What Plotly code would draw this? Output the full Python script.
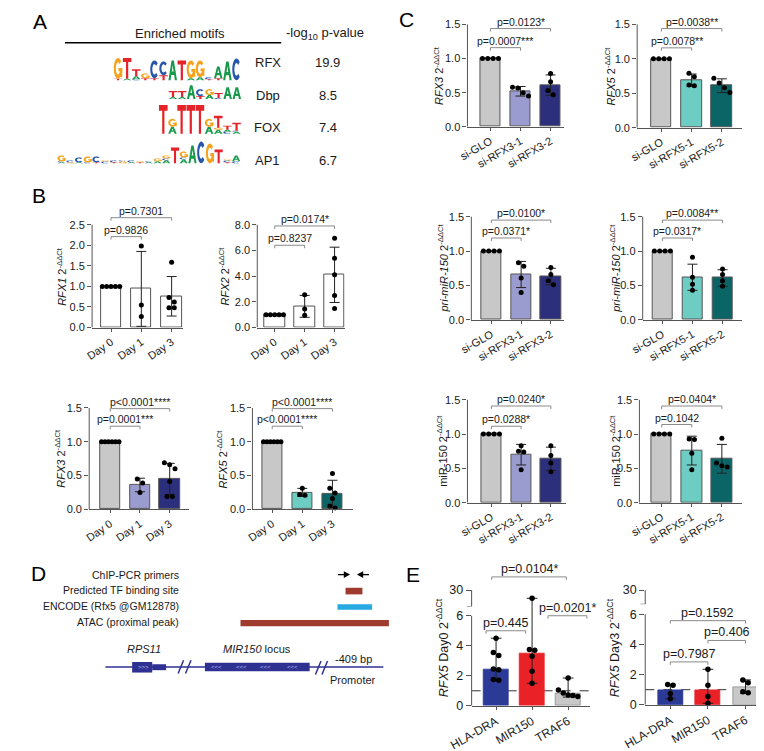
import math
import plotly.graph_objects as go

W, H = 764, 751
FONT = "Liberation Sans, Arial, sans-serif"
AXC = "#555555"
TXT = "#1a1a1a"

# ======================= DATA =======================
# ---- Panel A: enriched motifs ----
motif_names = ["RFX", "Dbp", "FOX", "AP1"]
motif_logp = ["19.9", "8.5", "7.4", "6.7"]
# each position: stack of (letter, height) from bottom to top
logo_RFX = [
    [("T", 1.5), ("G", 21)], [("A", 1.5), ("T", 21)], [("C", 1), ("A", 3), ("T", 7)],
    [("T", 2), ("G", 5)], [("T", 2), ("C", 18)], [("T", 5), ("C", 14)], [("A", 20)],
    [("T", 20)], [("A", 2), ("G", 18)], [("A", 3), ("G", 17)], [("T", 1), ("C", 2)],
    [("T", 2), ("A", 12)], [("A", 19)], [("C", 22)],
]
logo_Dbp = [
    [("A", 2), ("T", 6)], [("A", 2), ("T", 6)], [("A", 14)], [("T", 3), ("C", 7)],
    [("A", 4), ("G", 6)], [("C", 1), ("T", 5)], [("A", 12)], [("A", 12)],
]
logo_FOX = [
    [("T", 29)], [("A", 7), ("G", 8)], [("T", 29)], [("T", 29)], [("T", 29)],
    [("A", 7), ("G", 8)], [("A", 4), ("G", 2), ("T", 12)], [("C", 2), ("A", 2), ("T", 4)],
    [("A", 2), ("C", 1), ("T", 8)],
]
logo_AP1 = [
    [("A", 1), ("C", 1), ("G", 6)], [("G", 1), ("C", 2)], [("A", 1), ("C", 5)],
    [("C", 1), ("G", 6)], [("T", 1), ("C", 6)], [("C", 2), ("G", 1)], [("T", 1), ("C", 2)],
    [("G", 2), ("C", 1)], [("A", 1), ("C", 2)], [("T", 1), ("G", 1)], [("A", 1), ("C", 1)],
    [("A", 2), ("G", 3)], [("A", 3), ("C", 2), ("G", 3)], [("T", 16)],
    [("A", 4), ("C", 2), ("G", 6)], [("A", 18)], [("C", 22)], [("G", 20)], [("T", 14)],
    [("T", 1), ("C", 2), ("G", 1)], [("C", 2), ("A", 6)],
]

# ---- Panel B ----
day_cats = ["Day 0", "Day 1", "Day 3"]
rfx1_mean = [1.00, 0.94, 0.76]
rfx1_sd = [0.00, 0.91, 0.48]
rfx1_pts = [[1.0, 1.0, 1.0, 1.0, 1.0], [1.98, 0.55, 0.27], [1.59, 0.73, 0.62, 0.48, 0.48]]
rfx1_p = ["p=0.9826", "p=0.7301"]

rfx2_mean = [1.00, 1.65, 4.10]
rfx2_sd = [0.00, 0.85, 2.15]
rfx2_pts = [[1.0, 1.0, 1.0, 1.0, 1.0], [2.55, 1.45, 0.95], [6.95, 5.38, 4.10, 2.50, 1.49]]
rfx2_p = ["p=0.8237", "p=0.0174*"]

rfx3_mean = [1.00, 0.36, 0.45]
rfx3_sd = [0.00, 0.10, 0.23]
rfx3_pts = [[1.0, 1.0, 1.0, 1.0, 1.0, 1.0], [0.45, 0.39, 0.25], [0.69, 0.66, 0.60, 0.41, 0.19, 0.19]]
rfx3_p = ["p=0.0001***", "p<0.0001****"]

rfx5_mean = [1.00, 0.25, 0.23]
rfx5_sd = [0.00, 0.06, 0.20]
rfx5_pts = [[1.0, 1.0, 1.0, 1.0, 1.0, 1.0], [0.31, 0.21, 0.22], [0.53, 0.31, 0.24, 0.16, 0.05, 0.02]]
rfx5_p = ["p<0.0001****", "p<0.0001****"]

# ---- Panel C ----
si3_cats = ["si-GLO", "si-RFX3-1", "si-RFX3-2"]
si5_cats = ["si-GLO", "si-RFX5-1", "si-RFX5-2"]

c_rfx3_mean = [1.00, 0.52, 0.61]
c_rfx3_sd = [0.00, 0.07, 0.15]
c_rfx3_pts = [[1.0, 1.0, 1.0, 1.0], [0.58, 0.57, 0.50, 0.45], [0.78, 0.66, 0.53, 0.47]]
c_rfx3_p = ["p=0.0007***", "p=0.0123*"]

c_rfx5_mean = [1.00, 0.69, 0.61]
c_rfx5_sd = [0.00, 0.09, 0.10]
c_rfx5_pts = [[1.0, 1.0, 1.0, 1.0], [0.79, 0.74, 0.62, 0.61], [0.72, 0.65, 0.58, 0.51]]
c_rfx5_p = ["p=0.0078**", "p=0.0038**"]

pri3_mean = [1.00, 0.66, 0.63]
pri3_sd = [0.00, 0.19, 0.12]
pri3_pts = [[1.0, 1.0, 1.0, 1.0], [0.83, 0.78, 0.61, 0.40], [0.76, 0.66, 0.57, 0.51]]
pri3_p = ["p=0.0371*", "p=0.0100*"]

pri5_mean = [1.00, 0.62, 0.61]
pri5_sd = [0.00, 0.19, 0.12]
pri5_pts = [[1.0, 1.0, 1.0, 1.0], [0.91, 0.62, 0.52, 0.43], [0.74, 0.66, 0.57, 0.49]]
pri5_p = ["p=0.0317*", "p=0.0084**"]

mir3_mean = [1.00, 0.70, 0.64]
mir3_sd = [0.00, 0.15, 0.17]
mir3_pts = [[1.0, 1.0, 1.0, 1.0], [0.83, 0.75, 0.74, 0.48], [0.83, 0.69, 0.58, 0.45]]
mir3_p = ["p=0.0288*", "p=0.0240*"]

mir5_mean = [1.00, 0.76, 0.64]
mir5_sd = [0.00, 0.21, 0.21]
mir5_pts = [[1.0, 1.0, 1.0, 1.0], [0.93, 0.92, 0.72, 0.48], [0.94, 0.58, 0.54, 0.52]]
mir5_p = ["p=0.1042", "p=0.0404*"]

# ---- Panel E (median with range) ----
chip_cats = ["HLA-DRA", "MIR150", "TRAF6"]
d0_med = [2.40, 3.50, 0.80]
d0_min = [1.70, 1.50, 0.58]
d0_max = [4.50, 20.0, 1.85]
d0_pts = [[4.50, 3.55, 3.35, 2.45, 2.40, 1.75, 1.70],
          [20.0, 3.75, 3.70, 3.30, 2.30, 1.50],
          [1.85, 1.05, 0.85, 0.72, 0.68, 0.62]]
d0_p = ["p=0.445", "p=0.0201*", "p=0.0104*"]

d3_med = [0.98, 0.95, 1.15]
d3_min = [0.40, 0.10, 0.75]
d3_max = [1.35, 2.35, 1.65]
d3_pts = [[1.35, 1.30, 0.75, 0.40], [2.35, 1.30, 0.55, 0.10], [1.65, 1.46, 0.87, 0.80]]
d3_p = ["p=0.7987", "p=0.406", "p=0.1592"]

# ======================= HELPERS =======================
traces, shapes, annotations, axes = [], [], [], {}
TICK_FS, LAB_FS, TITLE_FS, P_FS = 11, 11, 11, 10.5


def P(x):
    return x / W


def Q(y):
    return 1 - y / H


def ptxt(x, y, text, size=11, xanchor="center", yanchor="middle", color=TXT, angle=0):
    annotations.append(dict(xref="paper", yref="paper", x=P(x), y=Q(y), text=text,
                            showarrow=False, xanchor=xanchor, yanchor=yanchor, textangle=angle,
                            font=dict(family=FONT, size=size, color=color)))


def prect(x0, y0, x1, y1, color):
    shapes.append(dict(type="rect", xref="paper", yref="paper", x0=P(x0), x1=P(x1),
                       y0=Q(y1), y1=Q(y0), fillcolor=color, line=dict(width=0)))


def pline(x0, y0, x1, y1, color, width=1.0):
    shapes.append(dict(type="line", xref="paper", yref="paper", x0=P(x0), x1=P(x1),
                       y0=Q(y0), y1=Q(y1), line=dict(color=color, width=width)))


def ppoly(pts, color):
    path = "M " + " L ".join(f"{P(x):.5f},{Q(y):.5f}" for x, y in pts) + " Z"
    shapes.append(dict(type="path", xref="paper", yref="paper", path=path,
                       fillcolor=color, line=dict(width=0)))


# ---- sequence logo glyphs (unit box, y up) ----
LOGO_COL = {"A": "#17994a", "C": "#2757a8", "G": "#f6a31c", "T": "#e4232a"}


def arc_poly(a0, a1, ro=(0.5, 0.5), ri=(0.25, 0.29), n=18):
    outer = [(0.5 + ro[0] * math.cos(math.radians(a0 + (a1 - a0) * i / n)),
              0.5 + ro[1] * math.sin(math.radians(a0 + (a1 - a0) * i / n))) for i in range(n + 1)]
    inner = [(0.5 + ri[0] * math.cos(math.radians(a1 - (a1 - a0) * i / n)),
              0.5 + ri[1] * math.sin(math.radians(a1 - (a1 - a0) * i / n))) for i in range(n + 1)]
    return outer + inner


def glyph(letter):
    if letter == "T":
        return [[[(0, 1), (1, 1), (1, 0.8), (0.63, 0.8), (0.63, 0), (0.37, 0), (0.37, 0.8), (0, 0.8)]]]
    if letter == "A":
        return [[[(0, 0), (0.36, 1), (0.64, 1), (1, 0), (0.75, 0), (0.67, 0.26), (0.33, 0.26), (0.25, 0)],
                 [(0.5, 0.76), (0.6, 0.44), (0.4, 0.44)]]]
    if letter == "C":
        return [[arc_poly(42, 318)]]
    # G
    return [[arc_poly(42, 340)],
            [[(0.55, 0.36), (1.0, 0.36), (1.0, 0.52), (0.55, 0.52)]],
            [[(0.78, 0.08), (1.0, 0.08), (1.0, 0.52), (0.78, 0.52)]]]


def draw_letter(letter, x0, x1, yb, yt):
    for sub in glyph(letter):
        path = ""
        for poly in sub:
            pts = [(x0 + u * (x1 - x0), yb - v * (yb - yt)) for u, v in poly]
            path += "M " + " L ".join(f"{P(x):.5f},{Q(y):.5f}" for x, y in pts) + " Z "
        shapes.append(dict(type="path", xref="paper", yref="paper", path=path.strip(),
                           fillcolor=LOGO_COL[letter], fillrule="evenodd", line=dict(width=0)))


def draw_logo(logo, x_start, width, baseline):
    for i, stack in enumerate(logo):
        x0 = x_start + i * width + 0.3
        x1 = x_start + (i + 1) * width - 0.3
        yb = baseline
        for letter, h in stack:
            draw_letter(letter, x0, x1, yb, yb - h)
            yb -= h


def swarm_offsets(vals, ppu, dot_px=5.0, step_px=5.5, max_px=18.0):
    order = sorted(range(len(vals)), key=lambda i: -vals[i])
    clusters = []
    for i in order:
        if clusters and abs(vals[clusters[-1][-1]] - vals[i]) * ppu < dot_px:
            clusters[-1].append(i)
        else:
            clusters.append([i])
    offs = [0.0] * len(vals)
    for cl in clusters:
        n = len(cl)
        step = min(step_px, max_px / (n - 1)) if n > 1 else 0
        for j, i in enumerate(cl):
            offs[i] = (j - (n - 1) / 2) * step
    return offs


def names(k):
    s = "" if k == 1 else str(k)
    return "x" + s, "y" + s, "xaxis" + s, "yaxis" + s


def bracket(xa, ya, x0, x1, y, d, text, size):
    shapes.append(dict(type="path", xref=xa, yref=ya,
                       path=f"M {x0},{y - d} L {x0},{y} L {x1},{y} L {x1},{y - d}",
                       line=dict(color="#8a8a8a", width=1)))
    annotations.append(dict(xref=xa, yref=ya, x=(x0 + x1) / 2, y=y, yshift=-1, text=text,
                            showarrow=False, xanchor="center", yanchor="bottom",
                            font=dict(family=FONT, size=size, color=TXT)))


def bar_panel(k, cats, means, sds, pts, ptexts, colors, g):
    xa, ya, xk, yk = names(k)
    s = (g["c2"] - g["c0"]) / 2.0
    ymax = max([g["ticks"][-1]] + [b[2] for b in g["brk"]])
    yr1 = ymax + 0.05 * g["ticks"][-1]
    top_px = g["y0"] - yr1 * g["ppu"]
    axes[xk] = dict(domain=[P(g["xl"]), P(g["xr"])],
                    range=[(g["xl"] - g["c0"]) / s, (g["xr"] - g["c0"]) / s], anchor=ya,
                    showline=True, linecolor=AXC, linewidth=1, ticks="outside", ticklen=3,
                    tickcolor=AXC, tickvals=[0, 1, 2], ticktext=cats, tickangle=g["angle"],
                    tickfont=dict(family=FONT, size=LAB_FS, color=TXT), showgrid=False,
                    zeroline=False, fixedrange=True)
    axes[yk] = dict(domain=[Q(g["y0"]), Q(top_px)], range=[0, yr1], anchor=xa, showline=False,
                    ticks="outside", ticklen=4, tickcolor=AXC, tickvals=g["ticks"],
                    ticktext=g["ticktext"], tickfont=dict(family=FONT, size=TICK_FS, color=TXT),
                    showgrid=False, zeroline=False, fixedrange=True)
    traces.append(go.Bar(x=[0, 1, 2], y=means, width=g["bw"] / s,
                         marker=dict(color=colors, line=dict(color=AXC, width=1)),
                         error_y=dict(type="data", array=sds, visible=True, color="#222",
                                      thickness=1, width=5),
                         xaxis=xa, yaxis=ya, hoverinfo="skip"))
    xs, ys = [], []
    for i, vals in enumerate(pts):
        offs = swarm_offsets(vals, g["ppu"], max_px=g["bw"] - 3)
        xs += [i + o / s for o in offs]
        ys += vals
    traces.append(go.Scatter(x=xs, y=ys, mode="markers", cliponaxis=False,
                             marker=dict(size=5, color="#000"), xaxis=xa, yaxis=ya,
                             hoverinfo="skip"))
    shapes.append(dict(type="line", xref=xa + " domain", yref=ya, x0=0, x1=0, y0=0,
                       y1=g["ticks"][-1], line=dict(color=AXC, width=1)))
    for (i, j, y), txt in zip(g["brk"], ptexts):
        bracket(xa, ya, i, j, y, 3.0 / g["ppu"], txt, P_FS)
    ptxt(g["tx"], (2 * g["y0"] - g["ticks"][-1] * g["ppu"]) / 2, g["title"], TITLE_FS, angle=-90)


def e_panel(kb, kt, cats, med, lo, hi, pts, ptexts, colors, lcolors, g):
    xa, ya, xk, yk = names(kb)
    xt, yt, xtk, ytk = names(kt)
    s = (g["c2"] - g["c0"]) / 2.0
    xrange = [(g["xl"] - g["c0"]) / s, (g["xr"] - g["c0"]) / s]
    yb_top = (g["y0"] - g["split"]) / g["ppu"]
    ppu_t = (g["split"] - g["p30"]) / (30 - g["toplo"])
    yt_top = 30 + (g["p30"] - g["topdom"]) / ppu_t
    axes[xk] = dict(domain=[P(g["xl"]), P(g["xr"])], range=xrange, anchor=ya,
                    showline=True, linecolor=AXC, linewidth=1, ticks="outside", ticklen=3,
                    tickcolor=AXC, tickvals=[0, 1, 2], ticktext=cats, tickangle=-30,
                    tickfont=dict(family=FONT, size=12, color=TXT), showgrid=False,
                    zeroline=False, fixedrange=True)
    axes[yk] = dict(domain=[Q(g["y0"]), Q(g["split"])], range=[0, yb_top], anchor=xa,
                    showline=False, ticks="outside", ticklen=5, tickcolor=AXC,
                    tickvals=[0, 2, 4, 6], ticktext=["0", "2", "4", "6"],
                    tickfont=dict(family=FONT, size=12.5, color=TXT), showgrid=False,
                    zeroline=False, fixedrange=True)
    axes[xtk] = dict(domain=[P(g["xl"]), P(g["xr"])], range=xrange, anchor=yt, visible=False,
                     fixedrange=True)
    axes[ytk] = dict(domain=[Q(g["split"]), Q(g["topdom"])], range=[g["toplo"], yt_top],
                     anchor=xt, showline=False, ticks="outside", ticklen=5, tickcolor=AXC,
                     tickvals=[30], ticktext=["30"],
                     tickfont=dict(family=FONT, size=12.5, color=TXT), showgrid=False,
                     zeroline=False, fixedrange=True)
    # reference line at 1
    shapes.append(dict(type="line", xref=xa + " domain", yref=ya, x0=0, x1=g["dash_end"],
                       y0=1, y1=1, layer="below", line=dict(color="#333", width=1, dash="dash")))
    traces.append(go.Bar(x=[0, 1, 2], y=med, width=g["bw"] / s,
                         marker=dict(color=colors, line=dict(color=lcolors, width=0.8)),
                         xaxis=xa, yaxis=ya, hoverinfo="skip"))
    # range whiskers (drawn in both segments, clipped by each segment)
    w = 5.5 / s
    ex, ey = [], []
    for i in range(3):
        ex += [i, i, None, i - w, i + w, None, i - w, i + w, None]
        ey += [lo[i], hi[i], None, lo[i], lo[i], None, hi[i], hi[i], None]
    for xx, yy in ((xa, ya), (xt, yt)):
        traces.append(go.Scatter(x=ex, y=ey, mode="lines", line=dict(color="#222", width=1),
                                 xaxis=xx, yaxis=yy, hoverinfo="skip"))
    bx, by, tx, ty = [], [], [], []
    for i, vals in enumerate(pts):
        offs = swarm_offsets(vals, g["ppu"], dot_px=5.0, step_px=5.5, max_px=g["bw"] - 6)
        for o, v in zip(offs, vals):
            if v <= yb_top:
                bx.append(i + o / s)
                by.append(v)
            else:
                tx.append(i + o / s)
                ty.append(v)
    traces.append(go.Scatter(x=bx, y=by, mode="markers", cliponaxis=False,
                             marker=dict(size=5.5, color="#000"), xaxis=xa, yaxis=ya,
                             hoverinfo="skip"))
    if tx:
        traces.append(go.Scatter(x=tx, y=ty, mode="markers", cliponaxis=False,
                                 marker=dict(size=5.5, color="#000"), xaxis=xt, yaxis=yt,
                                 hoverinfo="skip"))
    # broken axis lines
    wdom = g["xr"] - g["xl"]
    shapes.append(dict(type="line", xref=xa + " domain", yref=ya, x0=0, x1=0, y0=0, y1=6,
                       line=dict(color=AXC, width=1)))
    shapes.append(dict(type="line", xref=xt + " domain", yref=yt, x0=0, x1=0, y0=g["toplo"],
                       y1=30, line=dict(color=AXC, width=1)))
    shapes.append(dict(type="line", xref=xt + " domain", yref=yt, x0=-5 / wdom, x1=0,
                       y0=g["toplo"], y1=g["toplo"], line=dict(color=AXC, width=1)))
    for (i, j, y, seg), txt in zip(g["brk"], ptexts):
        if seg == "b":
            bracket(xa, ya, i, j, y, 3.0 / g["ppu"], txt, 12.5)
        else:
            bracket(xt, yt, i, j, y, 3.0 / ppu_t, txt, 12.5)
    ptxt(g["tx"], (g["y0"] + g["p30"]) / 2, g["title"], 12.5, angle=-90)


# ======================= PANEL A =======================
ptxt(9, 13, "A", 21, color="#000")
ptxt(154, 25, "Enriched motifs", 13)
ptxt(303, 25, "-log<sub>10</sub> p-value", 13)
pline(35, 34, 258, 34, "#000", 1.5)
for name, val, y in zip(motif_names, motif_logp, [54.3, 87.3, 119.3, 152.7]):
    ptxt(244, y, name, 13)
    ptxt(306, y, val, 13)
for logo, xs0, wd, base in ((logo_RFX, 85, 9.4, 72), (logo_Dbp, 141.7, 9.4, 91),
                            (logo_FOX, 131.7, 9.44, 126), (logo_AP1, 27, 9.0, 156)):
    draw_logo(logo, xs0, wd, base)

# ======================= PANEL B =======================
GRAY = "#c8c8c8"
LAV, NAVY = "#9a9bcf", "#2c2f7c"
TEAL, DTEAL = "#6dcdc3", "#0b6566"
WHITE = "#ffffff"
t05 = dict(ticks=[0, 0.5, 1.0, 1.5], ticktext=["0.0", "0.5", "1.0", "1.5"])
ptxt(8.3, 189, "B", 21, color="#000")
bar_panel(1, day_cats, rfx1_mean, rfx1_sd, rfx1_pts, rfx1_p, [WHITE] * 3,
          dict(xl=63, xr=157, c0=82.5, c2=145, y0=322, ppu=41.6, bw=21, angle=-35,
               ticks=[0, 0.5, 1.0, 1.5, 2.0, 2.5], ticktext=["0.0", "0.5", "1.0", "1.5", "2.0", "2.5"],
               brk=[(0, 1, 2.21), (0, 2, 2.67)], tx=31.7, title="<i>RFX1</i> 2<sup>-ΔΔCt</sup>"))
bar_panel(2, day_cats, rfx2_mean, rfx2_sd, rfx2_pts, rfx2_p, [WHITE] * 3,
          dict(xl=233.3, xr=323.5, c0=251.3, c2=313, y0=322, ppu=13.0, bw=21, angle=-35,
               ticks=[0, 2, 4, 6, 8], ticktext=["0.0", "2.0", "4.0", "6.0", "8.0"],
               brk=[(0, 1, 6.4), (0, 2, 7.9)], tx=199.3, title="<i>RFX2</i> 2<sup>-ΔΔCt</sup>"))
bar_panel(3, day_cats, rfx3_mean, rfx3_sd, rfx3_pts, rfx3_p, [GRAY, LAV, NAVY],
          dict(xl=60, xr=163, c0=81.7, c2=143, y0=505.7, ppu=68.3, bw=21, angle=-35,
               brk=[(0, 1, 1.23), (0, 2, 1.49)], tx=30, title="<i>RFX3</i> 2<sup>-ΔΔCt</sup>", **t05))
bar_panel(4, day_cats, rfx5_mean, rfx5_sd, rfx5_pts, rfx5_p, [GRAY, TEAL, DTEAL],
          dict(xl=228.3, xr=331.7, c0=248.7, c2=310.8, y0=505.7, ppu=68.3, bw=21, angle=-35,
               brk=[(0, 1, 1.23), (0, 2, 1.49)], tx=196.7, title="<i>RFX5</i> 2<sup>-ΔΔCt</sup>", **t05))

# ======================= PANEL C =======================
ptxt(386.7, 11, "C", 21, color="#000")
bar_panel(5, si3_cats, c_rfx3_mean, c_rfx3_sd, c_rfx3_pts, c_rfx3_p, [GRAY, LAV, NAVY],
          dict(xl=450, xr=550, c0=473.7, c2=535.7, y0=119, ppu=68.9, bw=21, angle=-30,
               brk=[(0, 1, 1.16), (0, 2, 1.44)], tx=420, title="<i>RFX3</i> 2<sup>-ΔΔCt</sup>", **t05))
bar_panel(6, si5_cats, c_rfx5_mean, c_rfx5_sd, c_rfx5_pts, c_rfx5_p, [GRAY, TEAL, DTEAL],
          dict(xl=625, xr=732.7, c0=650, c2=712.3, y0=120, ppu=69.6, bw=21, angle=-30,
               brk=[(0, 1, 1.16), (0, 2, 1.44)], tx=597.3, title="<i>RFX5</i> 2<sup>-ΔΔCt</sup>", **t05))
bar_panel(7, si3_cats, pri3_mean, pri3_sd, pri3_pts, pri3_p, [GRAY, LAV, NAVY],
          dict(xl=454, xr=550, c0=474.7, c2=536, y0=314.3, ppu=69.6, bw=21, angle=-30,
               brk=[(0, 1, 1.19), (0, 2, 1.45)], tx=425,
               title="<i>pri-miR-150</i> 2<sup>-ΔΔCt</sup>", **t05))
bar_panel(8, si5_cats, pri5_mean, pri5_sd, pri5_pts, pri5_p, [GRAY, TEAL, DTEAL],
          dict(xl=630.7, xr=732.7, c0=651, c2=713, y0=314.3, ppu=69.6, bw=21, angle=-30,
               brk=[(0, 1, 1.19), (0, 2, 1.45)], tx=602.7,
               title="<i>pri-miR-150</i> 2<sup>-ΔΔCt</sup>", **t05))
bar_panel(9, si3_cats, mir3_mean, mir3_sd, mir3_pts, mir3_p, [GRAY, LAV, NAVY],
          dict(xl=450, xr=551.7, c0=474.7, c2=536, y0=499, ppu=69.3, bw=21, angle=-30,
               brk=[(0, 1, 1.115), (0, 2, 1.41)], tx=424.3,
               title="miR-150 2<sup>-ΔΔCt</sup>", **t05))
bar_panel(10, si5_cats, mir5_mean, mir5_sd, mir5_pts, mir5_p, [GRAY, TEAL, DTEAL],
          dict(xl=627.3, xr=732.7, c0=650.3, c2=712.3, y0=499, ppu=69.3, bw=21, angle=-30,
               brk=[(0, 1, 1.14), (0, 2, 1.41)], tx=602.7,
               title="miR-150 2<sup>-ΔΔCt</sup>", **t05))

# ======================= PANEL D =======================
BLUE_G = "#2e3192"
BRICK = "#9e3a2e"
ptxt(8, 571, "D", 21, color="#000")
ptxt(155, 571.7, "ChIP-PCR primers", 10.5, xanchor="right")
ptxt(155, 587.3, "Predicted TF binding site", 10.5, xanchor="right")
ptxt(155, 603.3, "ENCODE (Rfx5 @GM12878)", 10.5, xanchor="right")
ptxt(155, 619.3, "ATAC (proximal peak)", 10.5, xanchor="right")
pline(316.5, 571.7, 324, 571.7, "#000", 1.3)
ppoly([(322.5, 568.2), (329, 571.7), (322.5, 575.2)], "#000")
pline(341, 571.7, 348.5, 571.7, "#000", 1.3)
ppoly([(342.5, 568.2), (336, 571.7), (342.5, 575.2)], "#000")
prect(324.3, 585, 341.7, 591.7, BRICK)
prect(316, 601.7, 351.7, 607.3, "#27aae1")
prect(216, 617.7, 369, 624, BRICK)
pline(76.7, 665, 363.3, 665, BLUE_G, 1.5)
prect(104.3, 660, 125, 670.7, BLUE_G)
prect(125, 662.3, 139.3, 668.3, BLUE_G)
prect(179.3, 660.7, 287.3, 669.3, BLUE_G)
for x0, y0, x1, y1 in ((151.7, 671.7, 157.3, 658.3), (159.3, 671.7, 165, 658.3),
                       (293.3, 672.7, 299, 659), (300, 672.7, 305.7, 659)):
    pline(x0, y0, x1, y1, BLUE_G, 1.5)
ptxt(116.5, 665, "&gt;&gt;&gt;", 6, color="#b8bff0")
for xx in (191.7, 216.7, 241.7, 270):
    ptxt(xx, 665, "&lt;&lt;&lt;", 6, color="#b8bff0")
ptxt(116.7, 646.7, "<i>RPS11</i>", 11)
ptxt(233, 647.3, "<i>MIR150</i> locus", 11)
ptxt(333, 657.3, "-409 bp", 11)
ptxt(332, 678.3, "Promoter", 11)

# ======================= PANEL E =======================
ptxt(394, 572, "E", 21, color="#000")
E_COL = ["#2b3a97", "#ea2228", "#c8c8c8"]
E_LCOL = ["#2b3a97", "#ea2228", "#8a8a8a"]
e_panel(11, 12, chip_cats, d0_med, d0_min, d0_max, d0_pts, d0_p, E_COL, E_LCOL,
        dict(xl=454.3, xr=576.7, c0=479.5, c2=553.8, y0=704.3, ppu=15.17, split=604,
             p30=587.3, toplo=10, topdom=560, bw=26, dash_end=1.0,
             brk=[(-0.28, 0.82, 5.0, "b"), (1.44, 2.52, 6.0, "b"), (-0.12, 1.95, 45.9, "t")],
             tx=424, title="<i>RFX5</i> Day0 2<sup>-ΔΔCt</sup>"))
e_panel(13, 14, chip_cats, d3_med, d3_min, d3_max, d3_pts, d3_p, E_COL, E_LCOL,
        dict(xl=633.3, xr=754.7, c0=659.2, c2=736.7, y0=703.3, ppu=15.27, split=601.7,
             p30=587.3, toplo=10, topdom=560, bw=26, dash_end=(764 - 633.3) / (754.7 - 633.3),
             brk=[(0, 1, 2.84, "b"), (1, 2, 4.26, "b"), (0, 2, 5.57, "b")],
             tx=601, title="<i>RFX5</i> Day3 2<sup>-ΔΔCt</sup>"))

# ======================= FIGURE =======================
fig = go.Figure(data=traces)
fig.update_layout(width=W, height=H, margin=dict(l=0, r=0, t=0, b=0), autosize=False,
                  showlegend=False, plot_bgcolor="white", paper_bgcolor="white",
                  font=dict(family=FONT, color=TXT), bargap=0,
                  shapes=shapes, annotations=annotations, **axes)
fig.write_html("out.html", config={"displayModeBar": False})
